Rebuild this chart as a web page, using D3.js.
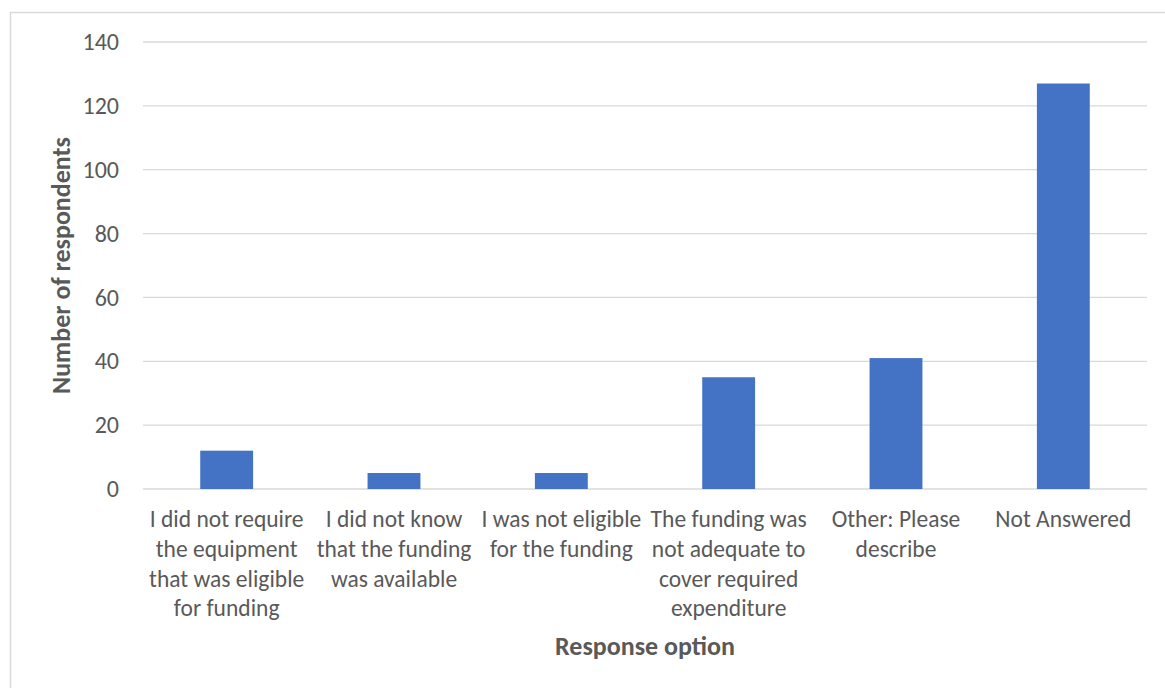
<!DOCTYPE html>
<html>
<head>
<meta charset="utf-8">
<script src="https://cdn.jsdelivr.net/npm/d3@7"></script>
<style>
  body { margin: 0; background: #fff; }
  svg { font-family: Carlito, Lato, "Open Sans", sans-serif; }
</style>
</head>
<body>
<div id="chart"></div>
<script>
// categories (each split into the lines shown under the axis)
const categories = [
  "I did not require the equipment that was eligible for funding",
  "I did not know that the funding was available",
  "I was not eligible for the funding",
  "The funding was not adequate to cover required expenditure",
  "Other: Please describe",
  "Not Answered"
];
const labelLines = [
  ["I did not require", "the equipment", "that was eligible", "for funding"],
  ["I did not know", "that the funding", "was available"],
  ["I was not eligible", "for the funding"],
  ["The funding was", "not adequate to", "cover required", "expenditure"],
  ["Other: Please", "describe"],
  ["Not Answered"]
];
const values = [12, 5, 5, 35, 41, 127];
const yTicks = [0, 20, 40, 60, 80, 100, 120, 140];

const W = 1165, H = 688;
const margin = { top: 42, right: 18, bottom: 199, left: 143 };
const width = W - margin.left - margin.right;
const height = H - margin.top - margin.bottom;

const svg = d3.select("#chart")
    .append("svg")
    .attr("width", W)
    .attr("height", H);

// chart border (only left and top edges are inside the crop)
svg.append("path")
    .attr("d", "M10.5," + H + "V12.5H" + W)
    .attr("fill", "none")
    .attr("stroke", "#d9d9d9")
    .attr("stroke-width", 1.5);

const g = svg.append("g")
    .attr("transform", "translate(" + margin.left + "," + margin.top + ")");

const x = d3.scaleBand()
    .domain(categories)
    .range([0, width])
    .paddingInner(0.684)
    .paddingOuter(0.342);

const y = d3.scaleLinear()
    .domain([0, 140])
    .range([height, 0]);

// gridlines
g.selectAll(".grid")
    .data(yTicks)
    .enter()
    .append("line")
    .attr("class", "grid")
    .attr("x1", 0).attr("x2", width)
    .attr("y1", d => y(d)).attr("y2", d => y(d))
    .attr("stroke", "#d9d9d9")
    .attr("stroke-width", 1.3);

// y axis labels
const yAxis = g.append("g")
    .call(d3.axisLeft(y).tickValues(yTicks).tickSize(0).tickPadding(24));
yAxis.select(".domain").remove();
yAxis.selectAll("text")
    .style("font-size", "24px")
    .attr("fill", "#595959")
    .attr("font-family", "Carlito, Lato, sans-serif");

// bars
g.selectAll(".bar")
    .data(values)
    .enter()
    .append("rect")
    .attr("class", "bar")
    .attr("x", (d, i) => x(categories[i]))
    .attr("y", d => y(d))
    .attr("width", x.bandwidth())
    .attr("height", d => height - y(d))
    .attr("fill", "#4472c4");

// x axis labels (wrapped)
const xLabels = g.selectAll(".x-label")
    .data(categories)
    .enter()
    .append("text")
    .attr("class", "x-label")
    .attr("x", d => x(d) + x.bandwidth() / 2)
    .attr("y", height + 38)
    .attr("text-anchor", "middle")
    .style("font-size", "23.5px")
    .attr("fill", "#595959");

xLabels.each(function (d, i) {
    const t = d3.select(this);
    labelLines[i].forEach((line, j) => {
        t.append("tspan")
            .attr("x", x(d) + x.bandwidth() / 2)
            .attr("dy", j === 0 ? 0 : 29.8)
            .text(line);
    });
});

// axis titles
svg.append("text")
    .attr("transform", "rotate(-90)")
    .attr("x", -(margin.top + height / 2))
    .attr("y", 70)
    .attr("text-anchor", "middle")
    .style("font-size", "26px")
    .style("font-weight", "bold")
    .attr("fill", "#595959")
    .text("Number of respondents");

svg.append("text")
    .attr("x", margin.left + width / 2)
    .attr("y", 655)
    .attr("text-anchor", "middle")
    .style("font-size", "26px")
    .style("font-weight", "bold")
    .attr("fill", "#595959")
    .text("Response option");
</script>
</body>
</html>
